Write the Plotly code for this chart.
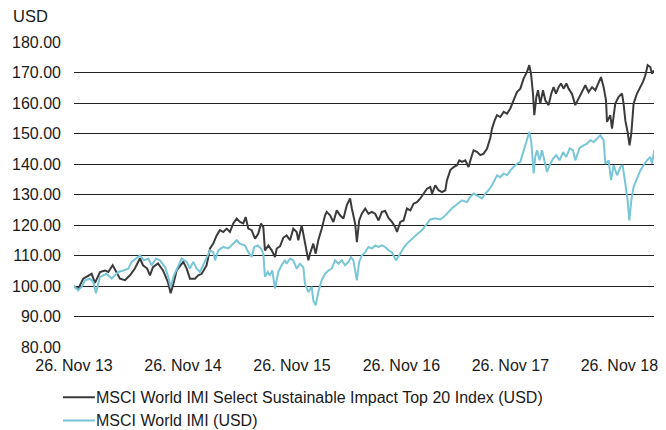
import pandas as pd
import plotly.graph_objects as go

# Dates expressed as decimal years
impact_years = [
    2013.901, 2013.940, 2013.986, 2014.032, 2014.063, 2014.094, 2014.140, 2014.185, 2014.216, 2014.256,
    2014.293, 2014.323, 2014.369, 2014.415, 2014.461, 2014.507, 2014.534, 2014.571, 2014.598, 2014.626,
    2014.672, 2014.718, 2014.763, 2014.788, 2014.809, 2014.843, 2014.873, 2014.904, 2014.935, 2014.965,
    2015.011, 2015.041, 2015.073, 2015.118, 2015.149, 2015.179, 2015.210, 2015.240, 2015.271, 2015.302,
    2015.332, 2015.362, 2015.394, 2015.424, 2015.454, 2015.476, 2015.500, 2015.531, 2015.562, 2015.592,
    2015.617, 2015.638, 2015.653, 2015.684, 2015.715, 2015.745, 2015.761, 2015.791, 2015.821, 2015.852,
    2015.883, 2015.913, 2015.944, 2015.959, 2015.990, 2016.020, 2016.051, 2016.066, 2016.096, 2016.118,
    2016.142, 2016.173, 2016.204, 2016.219, 2016.250, 2016.280, 2016.311, 2016.341, 2016.372, 2016.403,
    2016.433, 2016.449, 2016.479, 2016.495, 2016.516, 2016.540, 2016.571, 2016.601, 2016.632, 2016.662,
    2016.693, 2016.724, 2016.754, 2016.784, 2016.816, 2016.846, 2016.862, 2016.892, 2016.922, 2016.953,
    2016.984, 2017.014, 2017.045, 2017.075, 2017.106, 2017.137, 2017.167, 2017.183, 2017.213, 2017.243,
    2017.274, 2017.305, 2017.320, 2017.351, 2017.381, 2017.412, 2017.433, 2017.458, 2017.488, 2017.518,
    2017.540, 2017.564, 2017.595, 2017.626, 2017.656, 2017.687, 2017.718, 2017.733, 2017.757, 2017.779,
    2017.809, 2017.840, 2017.871, 2017.901, 2017.931, 2017.962, 2017.993, 2018.023, 2018.054, 2018.075,
    2018.091, 2018.109, 2018.121, 2018.140, 2018.155, 2018.176, 2018.201, 2018.222, 2018.252, 2018.277,
    2018.298, 2018.320, 2018.344, 2018.366, 2018.390, 2018.415, 2018.436, 2018.467, 2018.497, 2018.528,
    2018.559, 2018.589, 2018.619, 2018.651, 2018.681, 2018.711, 2018.733, 2018.757, 2018.779, 2018.788,
    2018.818, 2018.834, 2018.864, 2018.895, 2018.926, 2018.940, 2018.956, 2018.977, 2018.995, 2019.011,
    2019.032, 2019.063, 2019.094, 2019.118, 2019.140, 2019.161, 2019.185, 2019.201, 2019.216,
]
impact_values = [
    100.0, 99.0, 102.4, 103.5, 104.0, 101.0, 104.6, 105.1, 104.6, 106.8,
    104.6, 102.4, 101.9, 103.5, 105.8, 109.1, 106.8, 105.8, 103.5, 106.2,
    107.4, 105.1, 101.3, 97.6, 100.2, 105.1, 106.5, 107.9, 105.7, 102.4,
    102.4, 103.5, 104.0, 106.8, 112.3, 113.9, 116.6, 118.3, 117.7, 118.8,
    117.7, 120.5, 122.1, 121.0, 120.5, 122.6, 118.8, 118.3, 115.5, 117.2,
    120.5, 119.3, 111.7, 113.3, 111.7, 109.5, 112.3, 113.0, 115.8, 116.6,
    115.0, 118.8, 117.7, 115.0, 119.9, 114.4, 108.4, 110.6, 113.9, 110.6,
    115.0, 118.8, 123.2, 124.3, 123.2, 121.0, 124.8, 123.2, 122.1, 126.5,
    128.7, 125.4, 120.5, 114.4, 121.5, 123.7, 125.4, 123.7, 124.3, 123.7,
    121.5, 124.3, 124.6, 122.3, 121.0, 119.3, 117.7, 121.0, 121.5, 125.4,
    124.8, 127.0, 127.5, 128.7, 130.3, 131.9, 132.5, 130.3, 133.0, 131.4,
    130.8, 131.4, 134.7, 138.0, 139.0, 139.6, 141.2, 140.7, 141.2, 139.0,
    141.8, 144.5, 144.0, 142.9, 143.4, 145.0, 148.6, 151.6, 154.2, 156.0,
    155.4, 157.1, 156.5, 158.2, 160.9, 163.6, 164.7, 168.0, 170.2, 172.4,
    169.6, 163.1, 156.0, 162.0, 164.2, 159.8, 164.2, 160.9, 159.3, 163.1,
    165.2, 163.1, 165.2, 166.4, 164.7, 166.4, 164.7, 163.0, 159.3, 161.5,
    164.2, 165.8, 163.6, 165.2, 164.2, 166.4, 168.5, 165.2, 160.9, 153.8,
    156.0, 151.6, 159.8, 162.0, 163.1, 159.8, 154.3, 150.5, 146.1, 150.0,
    159.8, 163.1, 165.2, 166.9, 169.1, 172.4, 171.8, 169.6, 170.7,
]

world_years = [
    2013.901, 2013.938, 2013.972, 2014.002, 2014.048, 2014.078, 2014.103, 2014.140, 2014.201, 2014.247,
    2014.277, 2014.307, 2014.353, 2014.399, 2014.430, 2014.476, 2014.507, 2014.543, 2014.583, 2014.614,
    2014.653, 2014.690, 2014.736, 2014.766, 2014.788, 2014.818, 2014.858, 2014.889, 2014.935, 2014.965,
    2014.995, 2015.027, 2015.057, 2015.087, 2015.118, 2015.149, 2015.179, 2015.195, 2015.225, 2015.271,
    2015.317, 2015.362, 2015.394, 2015.424, 2015.470, 2015.500, 2015.531, 2015.555, 2015.586, 2015.617,
    2015.638, 2015.653, 2015.678, 2015.699, 2015.720, 2015.745, 2015.775, 2015.806, 2015.837, 2015.852,
    2015.883, 2015.913, 2015.944, 2015.974, 2016.005, 2016.020, 2016.051, 2016.082, 2016.096, 2016.118,
    2016.142, 2016.173, 2016.204, 2016.234, 2016.265, 2016.295, 2016.326, 2016.357, 2016.387, 2016.418,
    2016.440, 2016.463, 2016.495, 2016.516, 2016.540, 2016.571, 2016.601, 2016.632, 2016.662, 2016.693,
    2016.724, 2016.754, 2016.784, 2016.816, 2016.852, 2016.892, 2016.922, 2016.953, 2016.999, 2017.045,
    2017.091, 2017.137, 2017.167, 2017.213, 2017.259, 2017.289, 2017.320, 2017.366, 2017.412, 2017.458,
    2017.504, 2017.534, 2017.564, 2017.610, 2017.641, 2017.672, 2017.702, 2017.733, 2017.763, 2017.779,
    2017.809, 2017.840, 2017.871, 2017.901, 2017.931, 2017.962, 2017.993, 2018.023, 2018.054, 2018.075,
    2018.094, 2018.115, 2018.130, 2018.146, 2018.170, 2018.192, 2018.213, 2018.238, 2018.262, 2018.293,
    2018.323, 2018.353, 2018.385, 2018.415, 2018.445, 2018.476, 2018.497, 2018.537, 2018.573, 2018.605,
    2018.635, 2018.665, 2018.696, 2018.727, 2018.757, 2018.773, 2018.803, 2018.825, 2018.849, 2018.880,
    2018.910, 2018.931, 2018.956, 2018.977, 2018.993, 2019.011, 2019.032, 2019.063, 2019.094, 2019.124,
    2019.155, 2019.185, 2019.201, 2019.222,
]
world_values = [
    100.0, 98.6, 99.7, 101.9, 102.4, 101.3, 97.6, 103.0, 104.0, 102.4,
    103.5, 104.6, 105.1, 105.7, 107.9, 109.0, 110.0, 108.4, 109.0, 106.8,
    109.0, 108.4, 106.2, 103.0, 99.7, 103.5, 106.8, 109.0, 107.9, 105.7,
    107.9, 105.7, 104.6, 106.8, 109.5, 111.7, 111.1, 108.4, 111.7, 112.8,
    112.3, 113.9, 115.0, 113.9, 113.3, 111.1, 109.5, 112.8, 113.3, 112.3,
    110.6, 103.0, 104.6, 103.5, 105.1, 99.2, 104.6, 106.8, 108.5, 107.3,
    109.0, 108.4, 105.7, 107.3, 106.2, 100.8, 98.0, 99.7, 95.3, 93.7,
    98.0, 101.9, 104.0, 105.1, 105.7, 108.4, 107.3, 108.4, 106.8, 107.9,
    109.5, 108.4, 101.9, 107.9, 110.0, 111.1, 112.8, 112.3, 113.3, 112.8,
    113.3, 112.8, 111.7, 111.0, 108.4, 110.6, 112.5, 113.9, 115.5, 117.0,
    118.3, 120.5, 121.8, 122.2, 121.8, 122.6, 123.8, 125.5, 126.8, 128.1,
    127.5, 129.2, 130.3, 129.2, 128.7, 130.3, 131.4, 133.0, 135.2, 136.3,
    135.7, 136.9, 136.3, 137.9, 139.0, 140.1, 140.7, 144.5, 147.8, 150.5,
    147.2, 136.9, 142.3, 144.5, 141.2, 144.5, 141.2, 137.4, 139.6, 141.8,
    142.9, 141.2, 143.9, 142.3, 145.1, 144.5, 141.2, 145.3, 146.1, 146.7,
    147.8, 147.2, 148.3, 149.4, 147.8, 140.1, 141.2, 134.7, 139.6, 136.3,
    139.0, 139.6, 133.6, 128.1, 121.5, 128.1, 132.5, 135.2, 137.9, 139.6,
    141.2, 142.3, 140.1, 144.5,
]

tick_dates = ["2013-11-26", "2014-11-26", "2015-11-26", "2016-11-26", "2017-11-26", "2018-11-26"]
tick_labels = ["26. Nov 13", "26. Nov 14", "26. Nov 15", "26. Nov 16", "26. Nov 17", "26. Nov 18"]
y_ticks = [80, 90, 100, 110, 120, 130, 140, 150, 160, 170, 180]

series_names = [
    "MSCI World IMI Select Sustainable Impact Top 20 Index (USD)",
    "MSCI World IMI (USD)",
]
series_colors = ["#3b3b3b", "#78c6d7"]


def to_dates(years):
    out = []
    for y in years:
        yr = int(y)
        start = pd.Timestamp(year=yr, month=1, day=1)
        days = (pd.Timestamp(year=yr + 1, month=1, day=1) - start).days
        out.append(start + pd.Timedelta(days=(y - yr) * days))
    return out


FONT = "Liberation Sans, Arial, sans-serif"
TXT = "#1a1a1a"
FS = 16

fig = go.Figure()
fig.add_trace(go.Scatter(
    x=to_dates(impact_years), y=impact_values, mode="lines", name=series_names[0],
    line=dict(color=series_colors[0], width=2),
))
fig.add_trace(go.Scatter(
    x=to_dates(world_years), y=world_values, mode="lines", name=series_names[1],
    line=dict(color=series_colors[1], width=2),
))

# Legend drawn below the plot (line sample + label)
legend_rows_y = [-0.165, -0.241]
shapes = []
annotations = []
for name, color, ly in zip(series_names, series_colors, legend_rows_y):
    shapes.append(dict(
        type="line", xref="paper", yref="paper",
        x0=-0.019, x1=0.036, y0=ly, y1=ly,
        line=dict(color=color, width=2),
    ))
    annotations.append(dict(
        text=name, xref="paper", yref="paper", x=0.034, y=ly,
        xanchor="left", yanchor="middle", showarrow=False,
        font=dict(size=FS, color=TXT, family=FONT),
    ))

annotations.append(dict(
    text="USD", xref="paper", yref="paper", x=-0.109, y=1.05,
    xanchor="left", yanchor="bottom", showarrow=False,
    font=dict(size=16.5, color=TXT, family=FONT),
))

# The page body adds an 8px offset, so the figure is 8px smaller than the window
fig.update_layout(
    width=658, height=422,
    margin=dict(l=66, r=12, t=34, b=83),
    paper_bgcolor="white", plot_bgcolor="white",
    font=dict(family=FONT, size=FS, color=TXT),
    showlegend=False,
    xaxis=dict(
        type="date",
        range=["2013-11-26", "2019-03-22"],
        tickvals=tick_dates, ticktext=tick_labels,
        showgrid=False, zeroline=False, showline=False,
        ticks="", ticklabelstandoff=7, automargin=False,
        tickfont=dict(size=FS, color=TXT),
    ),
    yaxis=dict(
        range=[80, 180],
        tickvals=y_ticks,
        tickformat=".2f",
        showgrid=True, gridcolor="#222222", gridwidth=1.3,
        zeroline=False, showline=False, ticks="",
        ticklabelstandoff=12, automargin=False,
        tickfont=dict(size=FS, color=TXT),
    ),
    shapes=shapes,
    annotations=annotations,
)

fig.write_html("out.html")
